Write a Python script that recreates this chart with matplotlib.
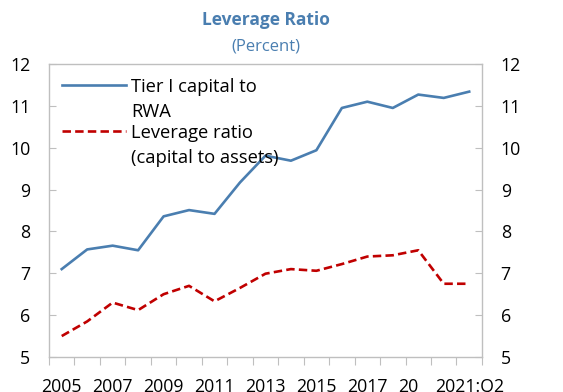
import matplotlib
matplotlib.use("Agg")
import matplotlib.pyplot as plt

plt.rcParams["font.family"] = ["Open Sans", "DejaVu Sans"]

# data
periods = ["2005", "2006", "2007", "2008", "2009", "2010", "2011", "2012",
           "2013", "2014", "2015", "2016", "2017", "2018", "2019", "2020", "2021:Q2"]
tier1_rwa = [7.1, 7.57, 7.66, 7.55, 8.36, 8.51, 8.42, 9.17,
             9.81, 9.69, 9.94, 10.95, 11.1, 10.95, 11.27, 11.19, 11.34]
leverage = [5.5, 5.85, 6.3, 6.12, 6.5, 6.7, 6.33, 6.65,
            6.99, 7.1, 7.06, 7.22, 7.4, 7.43, 7.55, 6.75, 6.75]
tick_labels = {0: "2005", 2: "2007", 4: "2009", 6: "2011", 8: "2013",
               10: "2015", 12: "2017", 14: "20", 16: "2021:Q2"}

blue = "#4a7eb0"
red = "#c00000"
grey = "#bfbfbf"
dash = (0, (3.2, 1.6))

fig = plt.figure(figsize=(5.63, 3.92), dpi=100)
ax = fig.add_axes([0.087, 0.0893, 0.769, 0.7474])

x = list(range(len(periods)))
ax.plot(x, tier1_rwa, color=blue, lw=1.9, label="Tier I capital to\nRWA")
ax.plot(x, leverage, color=red, lw=1.9, linestyle=dash,
        label="Leverage ratio\n(capital to assets)")

ax.set_xlim(-0.5, len(periods) - 0.5)
ax.set_ylim(5, 12)

for s in ax.spines.values():
    s.set_color(grey)
    s.set_linewidth(1)

# x: tick marks between categories, labels at selected centers
ax.set_xticks([i - 0.5 for i in range(len(periods) + 1)])
ax.set_xticklabels([])
ax.tick_params(axis="x", which="major", direction="out", length=6, color=grey)
ax.set_xticks(list(tick_labels.keys()), minor=True)
ax.set_xticklabels(list(tick_labels.values()), minor=True)
ax.tick_params(axis="x", which="minor", length=0, pad=15, labelsize=12.8)
for lab in ax.xaxis.get_minorticklabels():
    if lab.get_text() == "20":
        lab.set_ha("right")
        lab.set_x(14.5)

ax.set_yticks(list(range(5, 13)))
ax.tick_params(axis="y", direction="in", length=5, color=grey, pad=13.5,
               labelsize=12.8, right=True, labelright=True)

leg = ax.legend(loc="upper left", frameon=False, fontsize=13.2,
                handlelength=3.5, handletextpad=0.3, labelspacing=0.12,
                borderaxespad=0.0, bbox_to_anchor=(0.012, 0.978))
for t in leg.get_texts():
    t.set_linespacing(1.55)
# keep each legend line level with the first line of its label
for h in leg.legend_handles:
    h.set_ydata([y + 11.0 for y in h.get_ydata()])

fig.text(0.472, 0.948, "Leverage Ratio", ha="center", va="center",
         fontsize=12.5, fontweight="bold", color=blue)
fig.text(0.472, 0.881, "(Percent)", ha="center", va="center",
         fontsize=12, color=blue)

fig.savefig("out.png", dpi=100)
